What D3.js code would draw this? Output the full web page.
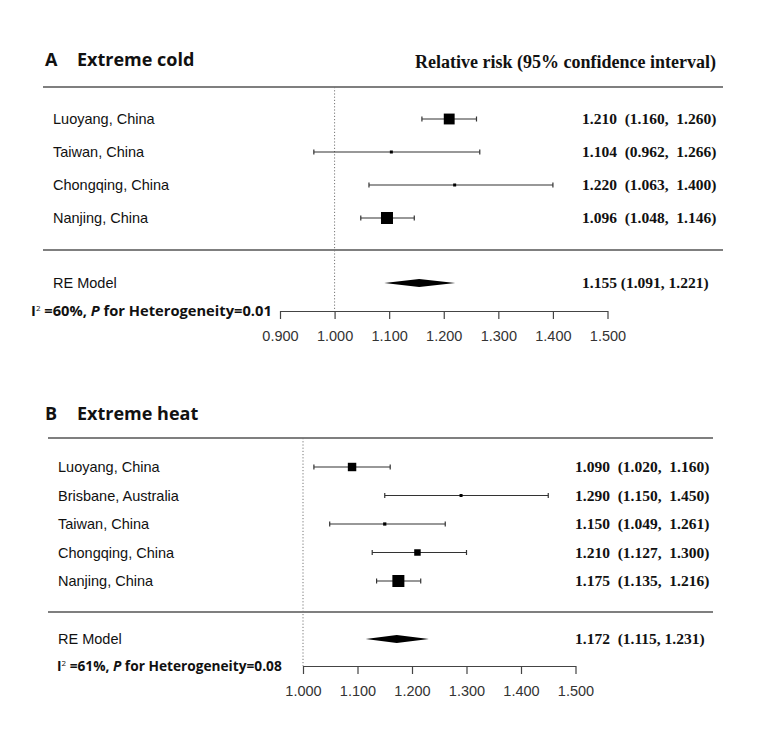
<!DOCTYPE html>
<html><head><meta charset="utf-8">
<script src="https://cdn.jsdelivr.net/npm/d3@7"></script>
<style>body{margin:0;background:#fff}svg{display:block}</style>
</head><body><svg id="chart" width="766" height="747"></svg>
<script>
// ---- data ----
const coldStudies = ["Luoyang, China", "Taiwan, China", "Chongqing, China", "Nanjing, China"];
const coldRR = [1.210, 1.104, 1.220, 1.096];
const coldLo = [1.160, 0.962, 1.063, 1.048];
const coldHi = [1.260, 1.266, 1.400, 1.146];
const coldWeight = [38, 10, 10, 42];
const coldPooled = [1.155, 1.091, 1.221];
const coldTicks = [0.9, 1.0, 1.1, 1.2, 1.3, 1.4, 1.5];
const coldHet = ["60%", "0.01"];

const heatStudies = ["Luoyang, China", "Brisbane, Australia", "Taiwan, China", "Chongqing, China", "Nanjing, China"];
const heatRR = [1.090, 1.290, 1.150, 1.210, 1.175];
const heatLo = [1.020, 1.150, 1.049, 1.127, 1.135];
const heatHi = [1.160, 1.450, 1.261, 1.300, 1.216];
const heatWeight = [26, 9, 10, 20, 37];
const heatPooled = [1.172, 1.115, 1.231];
const heatTicks = [1.0, 1.1, 1.2, 1.3, 1.4, 1.5];
const heatHet = ["61%", "0.08"];

const svg = d3.select("#chart");
const f3 = d3.format(".3f");

function panel(cfg, studies, rr, lo, hi, wt, pooled, ticks, het) {
  const g = svg.append("g");
  const x = d3.scaleLinear().domain([ticks[0], ticks[ticks.length-1]]).range(cfg.xr);
  const y = d3.scaleLinear().domain([0, 1]).range([cfg.row0, cfg.row0 + cfg.step]);
  const size = d3.scaleLinear().domain([0, d3.max(wt)]).range([0, 12]);

  // title
  g.append("text").attr("x", 45).attr("y", cfg.titleY)
    .style("font", "bold 18px 'Open Sans'").attr("fill", "#111").text(cfg.letter);
  g.append("text").attr("x", 77).attr("y", cfg.titleY)
    .style("font", "bold 18px 'Open Sans'").attr("fill", "#111").text(cfg.title);
  if (cfg.header) {
    g.append("text").attr("x", 415).attr("y", cfg.titleY + 2)
      .style("font", "bold 18px 'Liberation Serif'").attr("fill", "#111")
      .text("Relative risk (95% confidence interval)");
  }
  // rules
  [cfg.topY, cfg.sepY].forEach(yy => g.append("line")
    .attr("x1", cfg.lx1).attr("x2", cfg.lx2).attr("y1", yy).attr("y2", yy)
    .attr("stroke", "#555").attr("stroke-width", 1.5));
  // reference line
  g.append("line").attr("x1", x(1)).attr("x2", x(1)).attr("y1", cfg.topY).attr("y2", cfg.axisY)
    .attr("stroke", "#777").attr("stroke-width", 1).attr("stroke-dasharray", "1.2,2");

  // studies
  studies.forEach((s, i) => {
    const yy = y(i);
    g.append("text").attr("x", cfg.labX).attr("y", yy + 5)
      .style("font", "14.5px 'Liberation Sans'").attr("fill", "#111").text(s);
    g.append("line").attr("x1", x(lo[i])).attr("x2", x(hi[i])).attr("y1", yy).attr("y2", yy)
      .attr("stroke", "#333").attr("stroke-width", 1.2);
    [lo[i], hi[i]].forEach(v => g.append("line").attr("x1", x(v)).attr("x2", x(v))
      .attr("y1", yy - 2.5).attr("y2", yy + 2.5).attr("stroke", "#333").attr("stroke-width", 1.2));
    const sz = Math.max(3, size(wt[i]));
    g.append("rect").attr("x", x(rr[i]) - sz/2).attr("y", yy - sz/2)
      .attr("width", sz).attr("height", sz).attr("fill", "#000");
    g.append("text").attr("x", cfg.valX).attr("y", yy + 5).attr("xml:space", "preserve")
      .style("font", "bold 15.5px 'Liberation Serif'").style("white-space", "pre").attr("fill", "#111")
      .text(`${f3(rr[i])}  (${f3(lo[i])},  ${f3(hi[i])})`);
  });

  // pooled
  g.append("text").attr("x", cfg.labX).attr("y", cfg.reY + 5)
    .style("font", "14.5px 'Liberation Sans'").attr("fill", "#111").text("RE Model");
  const dh = 4;
  g.append("path").attr("d", `M${x(pooled[1])},${cfg.reY} L${x(pooled[0])},${cfg.reY-dh} L${x(pooled[2])},${cfg.reY} L${x(pooled[0])},${cfg.reY+dh} Z`)
    .attr("fill", "#000");
  g.append("text").attr("x", cfg.valX).attr("y", cfg.reY + 5).attr("xml:space", "preserve")
    .style("font", "bold 15.5px 'Liberation Serif'").style("white-space", "pre").attr("fill", "#111")
    .text(`${f3(pooled[0])}${cfg.reSpace}(${f3(pooled[1])}, ${f3(pooled[2])})`);

  // heterogeneity
  const ht = g.append("text").attr("x", cfg.hetX).attr("y", cfg.axisY + 5)
    .style("font", `bold ${cfg.hetSize}px 'Open Sans'`).attr("fill", "#111");
  ht.append("tspan").text("I");
  ht.append("tspan").attr("dy", -5).style("font-size", "8px").style("font-weight", "normal").text("2");
  ht.append("tspan").attr("dy", 5).text(` =${het[0]}, `);
  ht.append("tspan").style("font-style", "italic").text("P");
  ht.append("tspan").text(` for Heterogeneity=${het[1]}`);

  // axis
  const ax = g.append("g").attr("transform", `translate(0,${cfg.axisY})`)
    .call(d3.axisBottom(x).tickValues(ticks).tickFormat(f3).tickSize(8).tickSizeOuter(0).tickPadding(12));
  ax.select(".domain").attr("stroke", "#444").attr("stroke-width", 1.2);
  ax.selectAll(".tick line").attr("stroke", "#444").attr("stroke-width", 1.2);
  ax.selectAll(".tick text").style("font", "14.5px 'Liberation Sans'").attr("fill", "#333");
}

panel({letter: "A", title: "Extreme cold", header: true, titleY: 66, topY: 87, row0: 119, step: 33,
       sepY: 250, reY: 283, axisY: 311, xr: [280, 607.5], lx1: 43, lx2: 723, labX: 53, valX: 582,
       hetX: 31, hetSize: 14.7, reSpace: " "},
      coldStudies, coldRR, coldLo, coldHi, coldWeight, coldPooled, coldTicks, coldHet);
panel({letter: "B", title: "Extreme heat", header: false, titleY: 420, topY: 438, row0: 467, step: 28.5,
       sepY: 612, reY: 639, axisY: 666, xr: [303, 575.5], lx1: 48, lx2: 713, labX: 58, valX: 575,
       hetX: 57, hetSize: 13.7, reSpace: "  "},
      heatStudies, heatRR, heatLo, heatHi, heatWeight, heatPooled, heatTicks, heatHet);
</script></body></html>
